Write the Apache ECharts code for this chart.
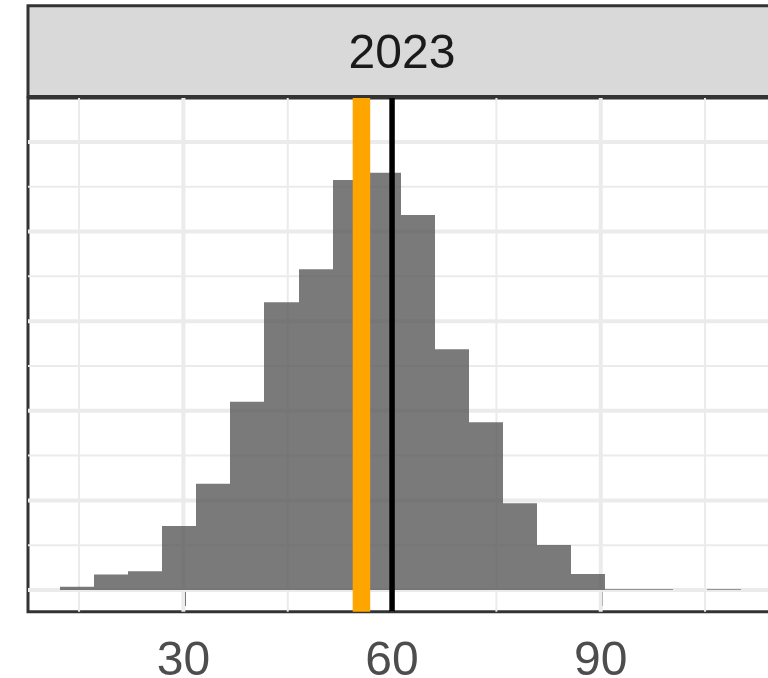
<!DOCTYPE html>
<html>
<head>
<meta charset="utf-8">
<script src="https://cdn.jsdelivr.net/npm/echarts@6/dist/echarts.min.js"></script>
<style>
html,body{margin:0;padding:0;background:#fff;}
#chart{width:768px;height:678px;}
</style>
</head>
<body>
<div id="chart"></div>
<script>
// ---- data ----
const facetLabel = '2023';
const binEdges = [12.31, 17.20, 22.09, 26.98, 31.87, 36.77, 41.66, 46.55, 51.44, 56.33, 61.22,
                  66.12, 71.01, 75.90, 80.79, 85.68, 90.57, 95.47, 100.36, 105.25, 110.14];
const binCounts = [3.7, 17.2, 20.9, 71.5, 118.6, 210, 321, 358, 457.5, 465.6,
                   418.4, 268.6, 187.1, 96.7, 50.2, 17.9, 0.8, 0.8, 0, 0.8];
const orangeLineX = [55.6];
const blackLineX = [60];
const xTickLabels = [30, 60, 90];
const xMinorGrid = [15, 45, 75, 105];
const yMajorGrid = [0, 100, 200, 300, 400, 500];
const yMinorGrid = [50, 150, 250, 350, 450];

const xMin = 7.66, xMax = 115.2, yMin = -24.2, yMax = 549;
const FONT = 'Liberation Sans, Arial, sans-serif';

const chart = echarts.init(document.getElementById('chart'), null, {renderer: 'canvas'});

function vLineSeries(values, color, width, z) {
  return {
    type: 'custom', coordinateSystem: 'cartesian2d', z: z, silent: true,
    data: values.map(v => [v]),
    encode: {x: 0},
    renderItem: function (params, api) {
      const v = api.value(0);
      const p1 = api.coord([v, yMin]);
      const p2 = api.coord([v, yMax]);
      return {type: 'line', shape: {x1: p1[0], y1: p1[1], x2: p2[0], y2: p2[1]},
              style: {stroke: color, lineWidth: width}};
    }
  };
}
function hLineSeries(values, color, width, z) {
  return {
    type: 'custom', coordinateSystem: 'cartesian2d', z: z, silent: true,
    data: values.map(v => [xMin, v]),
    encode: {x: 0, y: 1},
    renderItem: function (params, api) {
      const v = api.value(1);
      const p1 = api.coord([xMin, v]);
      const p2 = api.coord([xMax, v]);
      return {type: 'line', shape: {x1: p1[0], y1: p1[1], x2: p2[0], y2: p2[1]},
              style: {stroke: color, lineWidth: width}};
    }
  };
}

const barData = binCounts.map((c, i) => [binEdges[i], binEdges[i + 1], c]);

const option = {
  animation: false,
  backgroundColor: '#ffffff',
  grid: {left: 28, top: 98, width: 748, height: 513.7, show: true,
         outerBoundsMode: 'none', containLabel: false,
         backgroundColor: '#ffffff', borderColor: '#333333', borderWidth: 3},
  xAxis: {
    type: 'value', min: xMin, max: xMax,
    axisLine: {show: false},
    splitLine: {show: false},
    axisTick: {show: true, customValues: xTickLabels, length: 16,
               lineStyle: {color: '#333333', width: 4}},
    axisLabel: {customValues: xTickLabels, fontSize: 48, color: '#4D4D4D',
                margin: 26, fontFamily: FONT}
  },
  yAxis: {type: 'value', min: yMin, max: yMax, show: false},
  graphic: [
    {type: 'rect', shape: {x: 28, y: 5.8, width: 748, height: 90.7},
     style: {fill: '#D9D9D9', stroke: '#333333', lineWidth: 3}, z: 10},
    {type: 'text', x: 402, y: 55, z: 11,
     style: {text: facetLabel, fontSize: 48, fill: '#1A1A1A', fontFamily: FONT,
             align: 'center', verticalAlign: 'middle'}}
  ],
  series: [
    hLineSeries(yMinorGrid, '#EBEBEB', 2, 1),
    vLineSeries(xMinorGrid, '#EBEBEB', 2, 1),
    hLineSeries(yMajorGrid, '#EBEBEB', 4, 1),
    vLineSeries(xTickLabels, '#EBEBEB', 4, 1),
    {
      type: 'custom', coordinateSystem: 'cartesian2d', z: 2, silent: true,
      data: barData,
      encode: {x: [0, 1], y: 2},
      renderItem: function (params, api) {
        const l = api.coord([api.value(0), 0]);
        const r = api.coord([api.value(1), api.value(2)]);
        const x0 = Math.round(l[0]), x1 = Math.round(r[0]);
        return {type: 'rect',
                shape: {x: x0, y: r[1], width: x1 - x0, height: l[1] - r[1]},
                style: {fill: 'rgba(89,89,89,0.8)'}};
      }
    },
    vLineSeries(orangeLineX, '#FFA500', 17.5, 3),
    vLineSeries(blackLineX, '#000000', 5.5, 4)
  ]
};
chart.setOption(option);
</script>
</body>
</html>
